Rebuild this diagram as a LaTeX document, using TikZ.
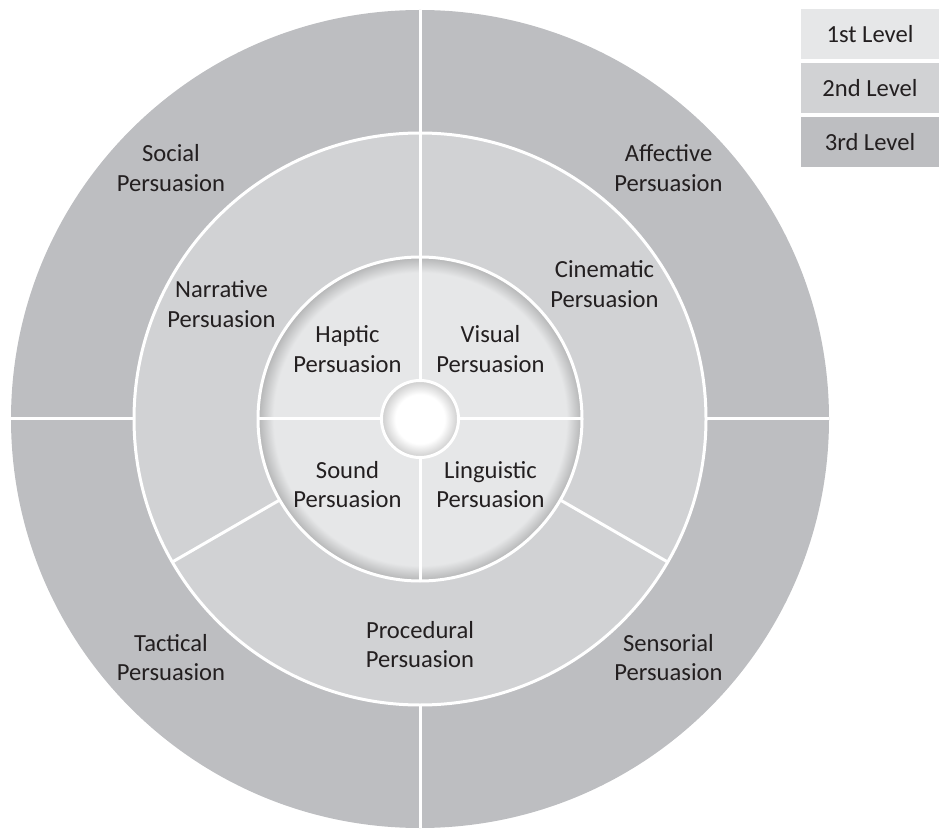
\documentclass[tikz,border=0pt]{standalone}
\usepackage{fontspec}
\setmainfont{Carlito}
\usepackage{tikz}
\usetikzlibrary{positioning}

\definecolor{lvone}{HTML}{E6E7E8}
\definecolor{lvtwo}{HTML}{D1D2D4}
\definecolor{lvthree}{HTML}{BDBEC1}
\definecolor{lvtext}{HTML}{231F20}
\pgfdeclareradialshading{ringshade}{\pgfpoint{0bp}{0bp}}{color(0bp)=(lvone); color(22.6bp)=(lvone); color(25bp)=(lvone!78!black); color(50bp)=(lvone!78!black)}
\pgfdeclareradialshading{hubshade}{\pgfpoint{0bp}{0bp}}{color(0bp)=(white); color(16bp)=(white); color(25bp)=(black!20); color(50bp)=(black!20)}

\begin{document}
\begin{tikzpicture}[x=1pt,y=1pt,
  sepline/.style={draw=white,line width=3pt},
  lbl/.style={font=\fontsize{24.6}{29.5}\selectfont,text=lvtext,align=center,inner sep=0pt},
  lvbox/.style={lbl,minimum width=138,minimum height=50}]
\useasboundingbox (0,0) rectangle (939,828);
\coordinate (C) at (420,409);

\fill[lvthree] (C) circle[radius=409];
\draw[sepline] (C) ++(180:409) -- ++(0:818);
\draw[sepline] (C) ++(90:409) -- ++(270:818);

\draw[fill=lvtwo,sepline] (C) circle[radius=286];
\draw[sepline] (C) ++(90:162) -- ++(90:124);
\draw[sepline] (C) ++(210:162) -- ++(210:124);
\draw[sepline] (C) ++(330:162) -- ++(330:124);

\shadedraw[shading=ringshade,sepline] (C) circle[radius=162];
\draw[sepline] (C) ++(180:162) -- ++(0:324);
\draw[sepline] (C) ++(90:162) -- ++(270:324);
\shadedraw[shading=hubshade,sepline] (C) circle[radius=38.5];

\node[lbl] (social) at (171,660) {Social\\Persuasion};
\node[lbl] (affective) at (668.5,660) {Affective\\Persuasion};
\node[lbl] (tactical) at (171,170.5) {Tactical\\Persuasion};
\node[lbl] (sensorial) at (668.5,170.5) {Sensorial\\Persuasion};

\node[lbl] (narrative) at (221.5,524) {Narrative\\Persuasion};
\node[lbl] (cinematic) at (604.5,544) {Cinematic\\Persuasion};
\node[lbl] (procedural) at (420,183.5) {Procedural\\Persuasion};

\node[lbl] (haptic) at (347.5,479) {Haptic\\Persuasion};
\node[lbl] (visual) at (490.5,479) {Visual\\Persuasion};
\node[lbl] (sound) at (347.5,343.5) {Sound\\Persuasion};
\node[lbl] (linguistic) at (490.5,343.5) {Linguistic\\Persuasion};

\node[lvbox,fill=lvone] (levelone) at (870,794) {1st Level};
\node[lvbox,fill=lvtwo,below=3.5 of levelone] (leveltwo) {2nd Level};
\node[lvbox,fill=lvthree,below=3.5 of leveltwo] (levelthree) {3rd Level};

\end{tikzpicture}
\end{document}
